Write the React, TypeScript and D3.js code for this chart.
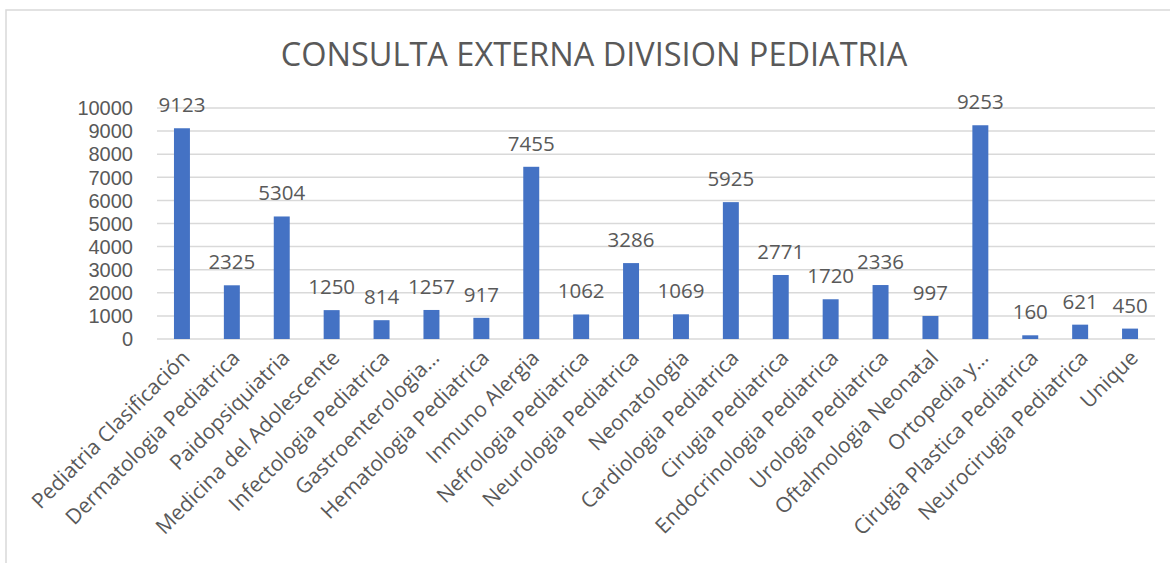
import React from 'react';
import * as d3 from 'd3';

const categories = [
  'Pediatria Clasificación',
  'Dermatologia Pediatrica',
  'Paidopsiquiatria',
  'Medicina del Adolescente',
  'Infectologia Pediatrica',
  'Gastroenterologia…',
  'Hematologia Pediatrica',
  'Inmuno Alergia',
  'Nefrologia Pediatrica',
  'Neurologia Pediatrica',
  'Neonatologia',
  'Cardiologia Pediatrica',
  'Cirugia Pediatrica',
  'Endocrinologia Pediatrica',
  'Urologia Pediatrica',
  'Oftalmologia Neonatal',
  'Ortopedia y…',
  'Cirugia Plastica Pediatrica',
  'Neurocirugia Pediatrica',
  'Unique',
];
const values = [9123, 2325, 5304, 1250, 814, 1257, 917, 7455, 1062, 3286, 1069, 5925, 2771, 1720, 2336, 997, 9253, 160, 621, 450];
const yTicks = [0, 1000, 2000, 3000, 4000, 5000, 6000, 7000, 8000, 9000, 10000];
const title = 'CONSULTA EXTERNA DIVISION PEDIATRIA';

const W = 1170;
const H = 563;
const plot = { left: 157, right: 1155, top: 108, bottom: 339 };
const font = '"Open Sans", "Noto Sans", sans-serif';
const tickFont = '"Liberation Sans", Arial, sans-serif';
const textColor = '#595959';

export default function App() {
  const x = d3.scaleBand<string>()
    .domain(categories)
    .range([plot.left, plot.right])
    .paddingInner(0.68)
    .paddingOuter(0.34);
  const y = d3.scaleLinear().domain([0, 10000]).range([plot.bottom, plot.top]);

  return (
    <svg width={W} height={H} style={{ position: 'absolute', left: 0, top: 0, background: '#fff' }}>
      <rect x={6} y={10} width={W} height={H} fill="#fff" stroke="#d9d9d9" strokeWidth={1.5} />
      <text x={594} y={66} textAnchor="middle" fontFamily={font} fontSize={32.5} fill={textColor}>
        {title}
      </text>
      {yTicks.map(t => (
        <g key={t}>
          <line x1={plot.left} x2={plot.right} y1={y(t)} y2={y(t)} stroke="#d9d9d9" strokeWidth={1.5} />
          <text x={133} y={y(t)} dy="0.36em" textAnchor="end" fontFamily={tickFont} fontSize={20} fill={textColor}>
            {t}
          </text>
        </g>
      ))}
      {categories.map((c, i) => {
        const bx = x(c)!;
        const cx = bx + x.bandwidth() / 2;
        return (
          <g key={c}>
            <rect x={bx} y={y(values[i])} width={x.bandwidth()} height={y(0) - y(values[i])} fill="#4472c4" />
            <text x={cx} y={y(values[i]) - 16} textAnchor="middle" fontFamily={font} fontSize={20.5} fill={textColor}>
              {values[i]}
            </text>
            <text
              transform={`translate(${cx + 4},${plot.bottom + 15}) rotate(-45)`}
              textAnchor="end"
              dy="0.35em"
              fontFamily={font}
              fontSize={21}
              fill={textColor}
            >
              {c}
            </text>
          </g>
        );
      })}
    </svg>
  );
}
